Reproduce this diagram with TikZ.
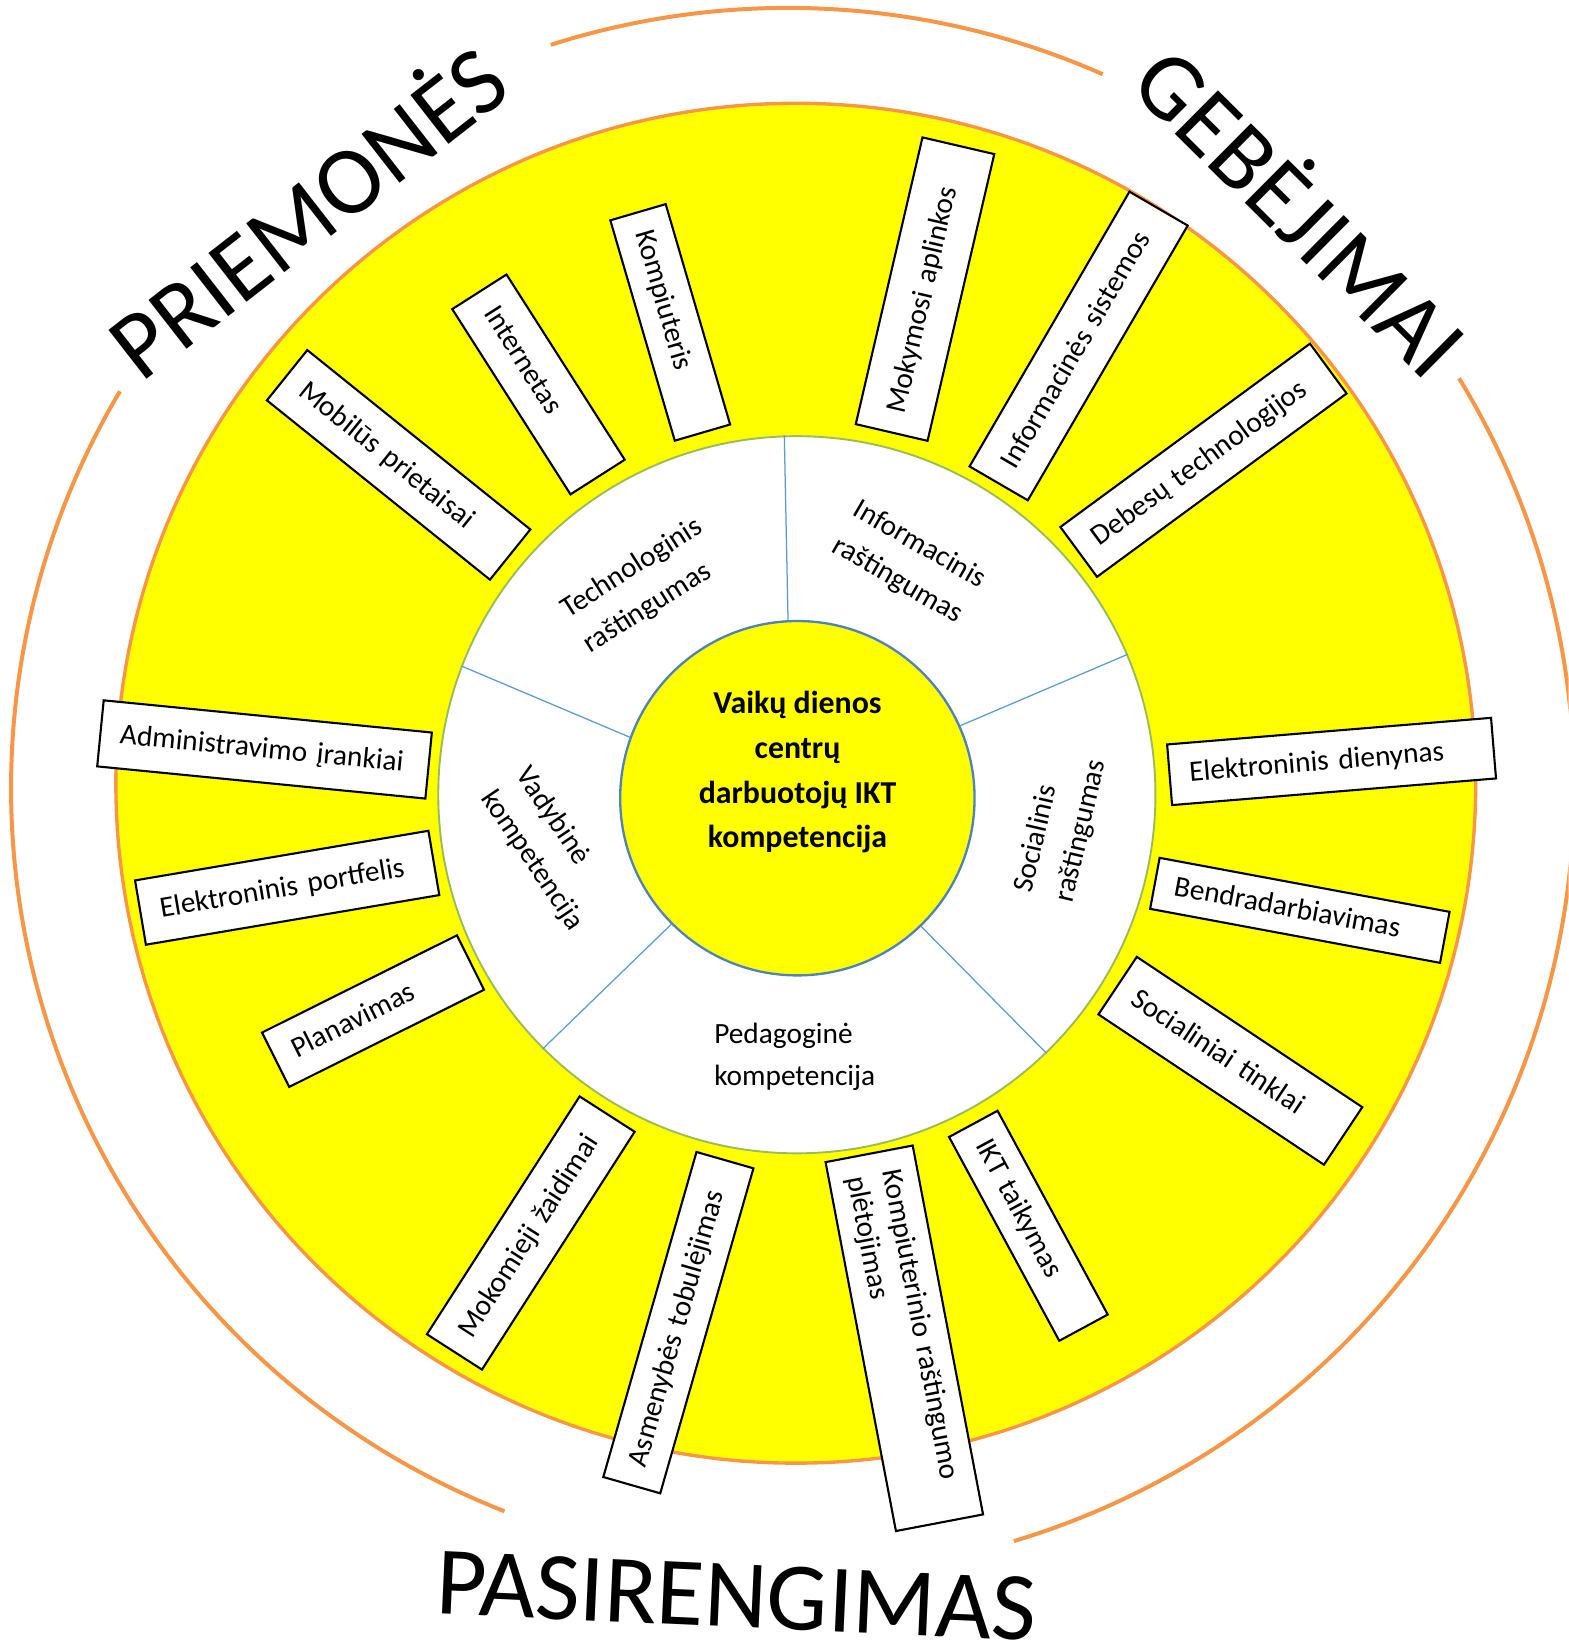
\documentclass[tikz,border=0pt]{standalone}
\usepackage{fontspec}
\setmainfont{Carlito}
\definecolor{orng}{HTML}{F79646}
\definecolor{ylw}{HTML}{FFFF00}
\definecolor{grn}{HTML}{9BBB59}
\definecolor{blu}{HTML}{4F81BD}
\definecolor{spk}{HTML}{5B9BD5}
\begin{document}
\begin{tikzpicture}[x=0.5pt,y=0.5pt,
  bx/.style={draw=black, fill=white, line width=1pt, rectangle, inner ysep=0pt, inner xsep=9.5pt, align=left, font=\fontsize{14}{17}\selectfont},
  bxo/.style={bx, text height=10pt, text depth=2pt},
  seg/.style={inner sep=0pt, anchor=center, font=\fontsize{14}{20}\selectfont},
  big/.style={inner sep=0pt, anchor=base},
  arcline/.style={draw=orng, line width=1.9pt},
  spoke/.style={draw=spk, line width=0.6pt}]
\useasboundingbox (0,0) rectangle (1496,-1568);
\fill[white] (0,0) rectangle (1496,-1568);
\clip (0,0) rectangle (1496,-1568);

% big yellow disc
\draw[draw=orng, line width=1.6pt, fill=ylw] (759,-747) circle[radius=648.5];

% outer arcs
\draw[arcline] (751.5,-751.5) ++(107.7:744) arc[start angle=107.7, end angle=66.2, radius=744];
\draw[arcline] (751.5,-751.5) ++(149.3:741) arc[start angle=149.3, end angle=248.6, radius=741];
\draw[arcline] (751.5,-751.5) ++(31.4:750) arc[start angle=31.4, end angle=-73.3, radius=750];

% ring and hub
\node[circle, draw=grn, line width=0.9pt, fill=white, minimum size=342pt, inner sep=0pt] (ring) at (760,-758) {};
\node[circle, draw=blu, line width=1.1pt, fill=ylw, minimum size=169pt, inner sep=0pt] (hub) at (760.5,-761.3) {};
\draw[spoke] (hub.93.8) -- (ring.92);
\draw[spoke] (hub.24.8) -- (ring.23.2);
\draw[spoke] (hub.-46.3) -- (ring.-46.1);
\draw[spoke] (hub.-135.9) -- (ring.-135.1);
\draw[spoke] (hub.160.2) -- (ring.159.8);

\node[font=\bfseries\fontsize{15.2}{21.3}\selectfont, anchor=base, inner sep=0pt] (title) at (760.7,-680.7)
  {\begin{tabular}[t]{@{}c@{}}Vaikų dienos\\centrų\\darbuotojų IKT\\kompetencija\end{tabular}};

% segment labels
\node[seg, rotate=32.5] (tech) at (613.3,-558.5) {\begin{tabular}[t]{@{}l@{}}Technologinis\\raštingumas\end{tabular}};
\node[seg, rotate=-30] (info) at (867.1,-536.4) {\begin{tabular}[t]{@{}l@{}}Informacinis\\raštingumas\end{tabular}};
\node[seg, rotate=77] (soc) at (1011.2,-788) {\begin{tabular}[t]{@{}l@{}}Socialinis\\raštingumas\end{tabular}};
\node[seg, rotate=-56] (vad) at (524.7,-809.5) {\begin{tabular}[t]{@{}l@{}}Vadybinė\\kompetencija\end{tabular}};
\node[seg] (ped) at (758,-1007.5) {\begin{tabular}[t]{@{}l@{}}Pedagoginė\\kompetencija\end{tabular}};

% boxes
\node[bxo, rotate=-73.7, minimum width=109.5pt, text width=90.5pt, minimum height=27.5pt] (b1) at (639.25,-307.5) {\mbox{Kompiuteris}};
\node[bxo, rotate=-57.45, minimum width=104.8pt, text width=85.8pt, minimum height=30.7pt] (b2) at (513.6,-366.65) {\mbox{Internetas}};
\node[bxo, rotate=-38.8, minimum width=136.5pt, text width=117.5pt, minimum height=30.75pt] (b3) at (380.2,-443.4) {\mbox{Mobilūs prietaisai}};
\node[bxo, rotate=-5.6, minimum width=157.25pt, text width=138.25pt, minimum height=31.65pt] (b4) at (252.3,-714.8) {\mbox{Administravimo įrankiai}};
\node[bxo, rotate=9.6, minimum width=141.9pt, text width=122.9pt, minimum height=31.1pt] (b5) at (273.9,-846.7) {\mbox{Elektroninis portfelis}};
\node[bxo, rotate=26.5, minimum width=103.85pt, text width=84.85pt, minimum height=29pt] (b6) at (355.8,-964.4) {\mbox{Planavimas}};
\node[bxo, rotate=57.3, minimum width=134.8pt, text width=115.8pt, minimum height=31.2pt] (b7) at (506.25,-1176) {\mbox{Mokomieji žaidimai}};
\node[bxo, rotate=74.0, minimum width=161.25pt, text width=142.25pt, minimum height=28.25pt] (b8) at (647,-1261.5) {\mbox{Asmenybės tobulėjimas}};
\node[bx, rotate=-79.2, minimum width=179.1pt, text width=160.1pt, minimum height=42.3pt] (b9) at (862.5,-1276.4) {\mbox{Kompiuterinio raštingumo}\\\mbox{plėtojimas}};
\node[bxo, rotate=-61.6, minimum width=110.5pt, text width=91.5pt, minimum height=26.3pt] (b10) at (980.85,-1169.1) {\mbox{IKT taikymas}};
\node[bxo, rotate=-33.7, minimum width=129.25pt, text width=110.25pt, minimum height=33pt] (b11) at (1173.5,-1011.75) {\mbox{Socialiniai tinklai}};
\node[bxo, rotate=-10.55, minimum width=140.65pt, text width=121.65pt, minimum height=24.75pt] (b12) at (1239.75,-868.25) {\mbox{Bendradarbiavimas}};
\node[bxo, rotate=4.7, minimum width=155pt, text width=136pt, minimum height=29pt] (b13) at (1270,-726.25) {\mbox{Elektroninis dienynas}};
\node[bxo, rotate=36.3, minimum width=147.7pt, text width=128.7pt, minimum height=29.5pt] (b14) at (1147.85,-438.98) {\mbox{Debesų technologijos}};
\node[bxo, rotate=59.8, minimum width=151.6pt, text width=132.6pt, minimum height=32.15pt] (b15) at (1028.75,-330) {\mbox{Informacinės sistemos}};
\node[bxo, rotate=76.9, minimum width=140.4pt, text width=121.4pt, minimum height=35.15pt] (b16) at (882.25,-275.75) {\mbox{Mokymosi aplinkos}};

% big labels
\node[big, rotate=37.9, font=\fontsize{46}{52}\selectfont] (priem) at (313,-227.6) {PRIEMONĖS};
\node[big, rotate=-44.8, font=\fontsize{45.5}{52}\selectfont] (gebej) at (1218,-224.4) {GEBĖJIMAI};
\node[big, rotate=-2.6, font=\fontsize{46.3}{52}\selectfont] (pasir) at (701,-1552) {PASIRENGIMAS};
\end{tikzpicture}
\end{document}
